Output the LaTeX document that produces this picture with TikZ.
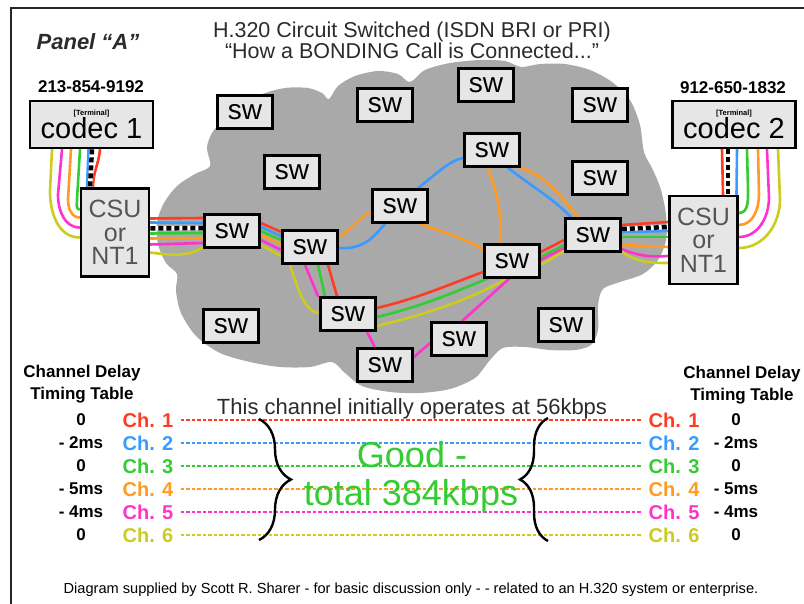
\documentclass[tikz,border=0pt]{standalone}
\usepackage{fontspec}
\setmainfont{Liberation Sans}
\usetikzlibrary{calc, decorations.pathreplacing}
\definecolor{cloudgray}{HTML}{A9A9A9}
\definecolor{boxgray}{HTML}{E6E6E6}
\definecolor{chred}{HTML}{FF3B22}
\definecolor{chblue}{HTML}{3A9BFF}
\definecolor{chgreen}{HTML}{33CC33}
\definecolor{chorange}{HTML}{FF9A22}
\definecolor{chpink}{HTML}{FF33CC}
\definecolor{chyellow}{HTML}{CCCC1F}
\definecolor{inkgray}{HTML}{2B2B2B}
\definecolor{csugray}{HTML}{555555}
\newcommand{\termtag}{\fontsize{7.5}{8}\selectfont\bfseries}

\pgfdeclarelayer{cloud}
\pgfdeclarelayer{wires}
\pgfsetlayers{cloud,wires,main}

\tikzset{
  swbox/.style={draw, line width=2.6pt, fill=boxgray, minimum width=55pt, minimum height=33pt,
    inner sep=0pt, font=\fontsize{28}{28}\selectfont},
  termbox/.style={draw, line width=2.8pt, fill=boxgray, minimum width=123pt, minimum height=47pt,
    inner sep=0pt, align=center, font=\fontsize{29}{26}\selectfont},
  csubox/.style={draw, line width=2.8pt, fill=boxgray, minimum width=68pt, minimum height=88pt,
    inner sep=0pt, align=center, text=csugray, font=\fontsize{25}{23.5}\selectfont},
  wire/.style={line width=2.6pt, line cap=round},
  dchan/.style={line width=4.5pt, dash pattern=on 5pt off 3pt,
    preaction={draw=white, solid, line width=4.5pt}},
  phone/.style={font=\fontsize{17}{17}\selectfont\bfseries},
  tablehead/.style={font=\fontsize{17}{21.5}\selectfont\bfseries, align=center},
  chlabel/.style={font=\fontsize{20}{20}\selectfont\bfseries},
  delay/.style={font=\fontsize{17}{17}\selectfont\bfseries},
  rowline/.style={line width=1.4pt, dash pattern=on 3.5pt off 2pt, shorten <=4pt, shorten >=4pt},
}

\begin{document}
\begin{tikzpicture}[x=1pt, y=-1pt]
\useasboundingbox (0,0) rectangle (804,604);

% Frame
\draw[line width=2pt, black!85] (11,8) rectangle (830,630);

% Cloud
\begin{pgfonlayer}{cloud}
\fill[cloudgray] plot[smooth cycle, tension=0.5] coordinates {
  (210,166) (207,147) (214,130) (235,110) (260,95) (285,88) (308,88) (322,93) (329,99)
  (338,86) (355,76) (378,71) (398,74) (410,82)
  (425,70) (450,63) (480,60) (505,61) (521,67)
  (540,64) (565,64) (590,70) (612,82) (630,100) (640,125) (644,152)
  (653,170) (661,190) (666,215) (666,240) (658,260) (643,274) (620,282) (603,289)
  (598,305) (598,330) (591,345) (575,350) (550,350) (525,347) (503,348) (490,360)
  (475,378) (450,389) (420,393) (390,392) (362,386) (345,373) (332,362)
  (310,367) (280,367) (250,362) (220,353) (196,336) (181,313) (176,291) (177,274)
  (166,263) (158,244) (157,222) (164,203) (177,186) (195,174)};
\end{pgfonlayer}

% Titles
\node[font=\fontsize{22}{22}\selectfont\bfseries\itshape, text=inkgray] (panel) at (88,42) {Panel “A”};
\node[font=\fontsize{21.5}{21}\selectfont, text=inkgray, align=center] (title) at (412,40)
  {H.320 Circuit Switched (ISDN BRI or PRI)\\“How a BONDING Call is Connected...”};

% ========== End points ==========
\node[phone] (num1) at (91,87) {213-854-9192};
\node[termbox] (cod1) at (91.5,124.5) {{\termtag[Terminal]}\\[-3pt]codec 1};
\node[csubox] (csu1) at (115,232.5) {CSU\\or\\NT1};

\node[phone] (num2) at (733,88) {912-650-1832};
\node[termbox] (cod2) at (734,124.5) {{\termtag[Terminal]}\\[-3pt]codec 2};
\node[csubox] (csu2) at (703.5,240) {CSU\\or\\NT1};

% ========== Switches ==========
\node[swbox] (s1) at (245,112) {sw};
\node[swbox] (s2) at (385,105) {sw};
\node[swbox] (s3) at (486,85) {sw};
\node[swbox] (s4) at (600,105) {sw};
\node[swbox] (s5) at (292,172) {sw};
\node[swbox] (s6) at (492,150) {sw};
\node[swbox] (s7) at (600,178) {sw};
\node[swbox] (s8) at (400,206) {sw};
\node[swbox] (s9) at (232,231) {sw};
\node[swbox] (s10) at (310,247) {sw};
\node[swbox] (s11) at (593,235) {sw};
\node[swbox] (s12) at (512,261) {sw};
\node[swbox] (s13) at (348,314) {sw};
\node[swbox] (s14) at (231,326) {sw};
\node[swbox] (s15) at (459,339) {sw};
\node[swbox] (s16) at (566,325) {sw};
\node[swbox] (s17) at (385,365) {sw};

% ========== Channels ==========
\begin{pgfonlayer}{wires}
% codec 1 -> CSU
\draw[wire, chred] ($(cod1.south)+(8.5,0)$) to[out=-95,in=90] ($(csu1.north)+(-22,0)$);
\draw[wire, chblue] ($(cod1.south)+(-3,0)$) -- ($(csu1.north)+(-28,0)$);
\draw[dchan] ($(cod1.south)+(0.5,0)$) -- ($(csu1.north)+(-25,0)$);
\draw[wire, chgreen] ($(cod1.south)+(-11.5,0)$) -- ++(-3,50) to[out=-90,in=180] ($(csu1.west)+(0,-23)$);
\draw[wire, chorange] ($(cod1.south)+(-20.5,0)$) -- ++(-3,50) to[out=-90,in=180] ($(csu1.west)+(0,-15)$);
\draw[wire, chpink] ($(cod1.south)+(-29.5,0)$) -- ++(-4,45) to[out=-90,in=180] ($(csu1.west)+(0,-5)$);
\draw[wire, chyellow] ($(cod1.south)+(-39.5,0)$) -- ++(-2,42) to[out=-90,in=180] ($(csu1.west)+(0,5)$);

% CSU -> first switch
\draw[wire, chred] ($(csu1.east)+(0,-14)$) -- ($(s9.west)+(0,-13)$);
\draw[wire, chblue] ($(csu1.east)+(0,-10)$) -- ($(s9.west)+(0,-8)$);
\draw[dchan] ($(csu1.east)+(0,-4)$) -- ($(s9.west)+(0,-3)$);
\draw[wire, chgreen] ($(csu1.east)+(0,1)$) -- ($(s9.west)+(0,2)$);
\draw[wire, chorange] ($(csu1.east)+(0,6)$) -- ($(s9.west)+(0,7)$);
\draw[wire, chpink] ($(csu1.east)+(0,12)$) -- ($(s9.west)+(0,12)$);
\draw[wire, chyellow] ($(csu1.east)+(0,20)$) .. controls (175,256) and (190,256) .. ($(s9.west)+(0,16)$);

% s9 -> s10
\draw[wire, chred] ($(s9.east)+(0,-8)$) -- ($(s10.west)+(0,-15)$);
\draw[wire, chblue] ($(s9.east)+(0,-4)$) -- ($(s10.west)+(0,-11)$);
\draw[wire, chgreen] ($(s9.east)+(0,0)$) -- ($(s10.west)+(0,-7)$);
\draw[wire, chorange] ($(s9.east)+(0,4)$) -- ($(s10.west)+(0,-3)$);
\draw[wire, chpink] ($(s9.east)+(0,9)$) -- ($(s10.west)+(0,3)$);
\draw[wire, chyellow] ($(s9.east)+(0,14)$) -- ($(s10.west)+(0,9)$);

% s10 -> s8 (ch 2, ch 4)
\draw[wire, chorange] ($(s10.east)+(0,-10)$) .. controls (355,228) and (360,215) .. ($(s8.west)+(0,6)$);
\draw[wire, chblue] ($(s10.east)+(0,1)$) .. controls (365,250) and (375,235) .. ($(s8.south)+(-15,0)$);

% s10 -> s13 (ch 1, 3, 5, 6)
\draw[wire, chred] ($(s10.south)+(18,0)$) -- ($(s13.north)+(-11,0)$);
\draw[wire, chgreen] ($(s10.south)+(8,0)$) -- ($(s13.north)+(-23,0)$);
\draw[wire, chpink] ($(s10.south)+(-5,0)$) -- ($(s13.north)+(-30,0)$);
\draw[wire, chyellow] ($(s10.south)+(-20,0)$) .. controls (298,290) and (305,312) .. ($(s13.west)+(0,-1)$);

% s13 -> s12
\draw[wire, chred] ($(s13.east)+(0,-6)$) .. controls (420,298) and (455,282) .. ($(s12.west)+(0,11)$);
\draw[wire, chgreen] ($(s13.east)+(0,3)$) .. controls (420,307) and (455,292) .. ($(s12.south)+(-25,0)$);
\draw[wire, chyellow] ($(s13.east)+(0,12)$) .. controls (420,316) and (470,300) .. ($(s12.south)+(-6,0)$);

% ch 5 detour
\draw[wire, chpink] ($(s13.south)+(19,0)$) -- ($(s17.north)+(-10,0)$);
\draw[wire, chpink] ($(s17.east)+(0,-8)$) -- ($(s15.west)+(0,4)$);
\draw[wire, chpink] ($(s15.north)+(3,0)$) -- ($(s12.south)+(-3,0)$);

% upper paths (ch 2, ch 4)
\draw[wire, chblue] ($(s8.north)+(18,0)$) .. controls (435,175) and (450,160) .. ($(s6.west)+(0,8)$);
\draw[wire, chorange] ($(s8.south)+(20,0)$) .. controls (445,233) and (470,240) .. ($(s12.west)+(0,-11)$);
\draw[wire, chorange] ($(s6.south)+(-4,0)$) .. controls (498,195) and (502,215) .. ($(s12.north)+(-12,0)$);
\draw[wire, chorange] (s6.south east) .. controls (545,175) and (565,200) .. ($(s11.north)+(-15,0)$);
\draw[wire, chblue] ($(s6.south)+(16,0)$) .. controls (530,185) and (555,200) .. ($(s11.north)+(-22,0)$);

% s12 -> s11
\draw[wire, chred] ($(s12.east)+(0,-9)$) -- ($(s11.west)+(0,5)$);
\draw[wire, chgreen] ($(s12.east)+(0,-4)$) -- ($(s11.west)+(0,10)$);
\draw[wire, chpink] ($(s12.east)+(0,-1)$) -- ($(s11.west)+(0,13)$);
\draw[wire, chyellow] ($(s12.east)+(0,4)$) -- ($(s11.west)+(0,16)$);

% last switch -> CSU
\draw[wire, chred] ($(s11.east)+(0,-10)$) -- ($(csu2.west)+(0,-18)$);
\draw[wire, chblue] ($(s11.east)+(0,-3)$) -- ($(csu2.west)+(0,-9)$);
\draw[dchan] ($(s11.east)+(0,-6)$) -- ($(csu2.west)+(0,-13)$);
\draw[wire, chgreen] ($(s11.east)+(0,2)$) -- ($(csu2.west)+(0,-3)$);
\draw[wire, chorange] ($(s11.east)+(0,10)$) -- ($(csu2.west)+(0,7)$);
\draw[wire, chpink] ($(s11.east)+(0,14)$) .. controls (640,257) and (655,257) .. ($(csu2.west)+(0,16)$);
\draw[wire, chyellow] ($(s11.east)+(0,17)$) .. controls (638,263) and (655,263) .. ($(csu2.west)+(0,23)$);

% CSU -> codec 2
\draw[wire, chred] ($(cod2.south)+(-12,0)$) -- ($(csu2.north)+(19.5,0)$);
\draw[dchan] ($(cod2.south)+(-6,0)$) -- ($(csu2.north)+(24.5,0)$);
\draw[wire, chblue] ($(cod2.south)+(3,0)$) -- ($(csu2.north)+(33,0)$);
\draw[wire, chgreen] ($(cod2.south)+(13,0)$) -- ++(1,40) to[out=-90,in=0] ($(csu2.east)+(0,-27)$);
\draw[wire, chorange] ($(cod2.south)+(24,0)$) -- ++(1,45) to[out=-90,in=0] ($(csu2.east)+(0,-15)$);
\draw[wire, chpink] ($(cod2.south)+(33,0)$) -- ++(2,48) to[out=-90,in=0] ($(csu2.east)+(0,-3)$);
\draw[wire, chyellow] ($(cod2.south)+(44,0)$) -- ++(2,50) to[out=-90,in=0] ($(csu2.east)+(0,8)$);
\end{pgfonlayer}

% ========== Delay tables ==========
\node[tablehead] (headl) at (82,384) {Channel Delay\\Timing Table};
\node[tablehead] (headr) at (742,385) {Channel Delay\\Timing Table};
\node[font=\fontsize{22}{22}\selectfont, text=inkgray] (note) at (412,409) {This channel initially operates at 56kbps};

\foreach \col/\dly [count=\i] in {chred/0, chblue/- 2ms, chgreen/0, chorange/- 5ms, chpink/- 4ms, chyellow/0} {
  \node[chlabel, text=\col] (chl\i) at (148, 397+23*\i) {Ch. \i};
  \node[chlabel, text=\col] (chr\i) at (674, 397+23*\i) {Ch. \i};
  \node[delay] (dl\i) at (81, 397+23*\i) {\dly};
  \node[delay] (dr\i) at (736, 397+23*\i) {\dly};
  \draw[rowline, \col] (chl\i.east) -- (chr\i.west);
}

% Braces
\draw[decorate, decoration={brace, amplitude=32pt}, line width=2.4pt] (259,419) -- (259,540);
\draw[decorate, decoration={brace, amplitude=28pt}, line width=2.4pt] (548,541) -- (548,418);

\node[font=\fontsize{36}{36}\selectfont, text=chgreen] (good) at (412,455) {Good -};
\node[font=\fontsize{36}{36}\selectfont, text=chgreen] (total) at (411,496) {total 384kbps};

% Footer
\node[font=\fontsize{14.6}{14.6}\selectfont] (foot) at (411,590)
  {Diagram supplied by Scott R. Sharer - for basic discussion only - - related to an H.320 system or enterprise.};

\end{tikzpicture}
\end{document}
